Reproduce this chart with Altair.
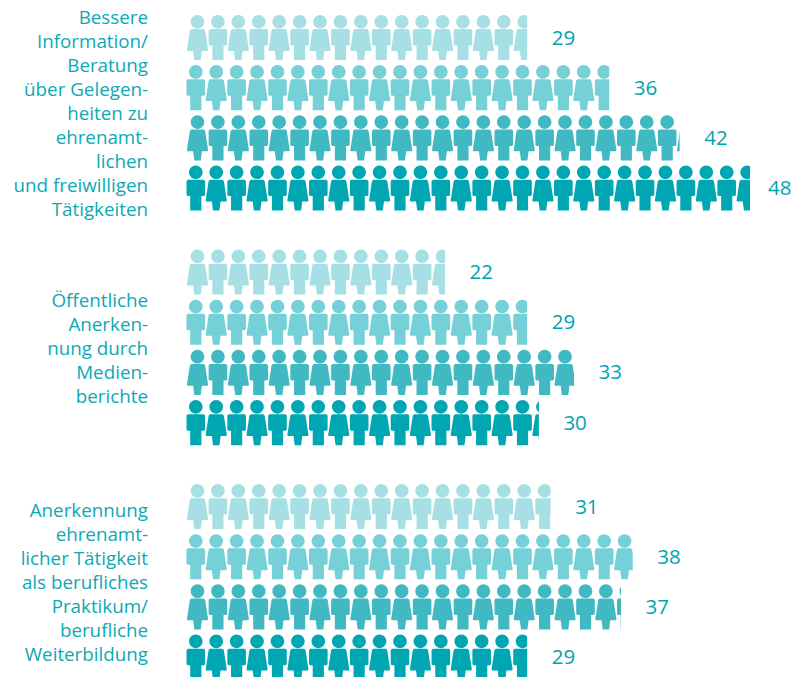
import altair as alt
import pandas as pd

labels = [
    ["Bessere", "Information/", "Beratung", "über Gelegen-", "heiten zu", "ehrenamt-", "lichen",
     "und freiwilligen", "Tätigkeiten"],
    ["Öffentliche", "Anerken-", "nung durch", "Medien-", "berichte"],
    ["Anerkennung", "ehrenamt-", "licher Tätigkeit", "als berufliches", "Praktikum/", "berufliche",
     "Weiterbildung"],
]
values_row1 = [29, 22, 31]
values_row2 = [36, 29, 38]
values_row3 = [42, 33, 37]
values_row4 = [48, 30, 29]
rows = [values_row1, values_row2, values_row3, values_row4]
row_colors = ["#a6e0e5", "#76d0d7", "#41b9c2", "#00a7b3"]
text_color = "#0ba9b5"
value_color = "#00a3af"

PX = 11.73
PY = 50.2
PER_ICON = 20.42 / PX
GROUP_STEP = 4.672
LINE = 24 / PY


def circle(cx, cy, r):
    k = 0.5523 * r
    pts = [
        f"M{cx-r} {cy}",
        f"C{cx-r} {cy-k} {cx-k} {cy-r} {cx} {cy-r}",
        f"C{cx+k} {cy-r} {cx+r} {cy-k} {cx+r} {cy}",
        f"C{cx+r} {cy+k} {cx+k} {cy+r} {cx} {cy+r}",
        f"C{cx-k} {cy+r} {cx-r} {cy+k} {cx-r} {cy}Z",
    ]
    return "".join(pts)


def poly(p):
    p = [(round(x / 22.5, 4), round(y / 22.5, 4)) for x, y in p]
    return "M" + "L".join(f"{x} {y}" for x, y in p) + "Z"


head = circle(0, round(-15.8 / 22.5, 4), round(6.8 / 22.5, 4))
female = head + poly([
    (-6.2, -8.4), (6.2, -8.4), (7.6, -7.2), (10.6, 12.4), (10.0, 13.4), (4.4, 13.4),
    (3.2, 22.5), (-3.2, 22.5), (-4.4, 13.4), (-10.0, 13.4), (-10.6, 12.4), (-7.6, -7.2),
])
male = head + poly([
    (-8.0, -8.4), (8.0, -8.4), (9.3, -7.1), (9.3, 7.0), (8.2, 8.0), (5.6, 8.0),
    (5.6, 22.5), (-5.6, 22.5), (-5.6, 8.0), (-8.2, 8.0), (-9.3, 7.0), (-9.3, -7.1),
])
START = {"f": 10.5 / PX, "m": 8.8 / PX}
HALF = {"f": 10.6 / PX, "m": 9.3 / PX}

W, H = 784, 669
LABEL_GAP = 24.5 / PX
LABEL_MAX = (W - 23 - 179 - 1) / PX

icons, ends, texts = [], [], []
for g, lines in enumerate(labels):
    mid = g * GROUP_STEP + 1.5
    for k, line in enumerate(lines):
        texts.append({"y": mid + (k - (len(lines) - 1) / 2) * LINE, "label": line})
    for r, series in enumerate(rows):
        y = g * GROUP_STEP + r
        v = series[g]
        ends.append({"v": v, "v2": v + 2.2, "lx": min(v + LABEL_GAP, LABEL_MAX),
                     "y": y, "y1": y - 0.47, "y2": y + 0.47})
        first = "f" if r % 2 == 0 else "m"
        i = 0
        while True:
            kind = "f" if (i + r) % 2 == 0 else "m"
            cx = START[first] + i * PER_ICON
            if cx - HALF[kind] >= v:
                break
            icons.append({"x": cx, "y": y, "row": str(r), "g": kind})
            i += 1

x_scale = alt.Scale(domain=[-179 / PX, (W - 179) / PX], range=[0, W], nice=False, zero=False)
y_scale = alt.Scale(domain=[-29.5 / PY, (H - 29.5) / PY], range=[0, H], nice=False, zero=False)
X = lambda f: alt.X(f, scale=x_scale, axis=None)
Y = lambda f: alt.Y(f, scale=y_scale, axis=None)

icon_layer = alt.Chart(pd.DataFrame(icons)).mark_point(
    filled=True, opacity=1, size=2025, strokeWidth=0
).encode(
    x=X("x:Q"), y=Y("y:Q"),
    color=alt.Color("row:N", scale=alt.Scale(domain=["0", "1", "2", "3"], range=row_colors), legend=None),
    shape=alt.Shape("g:N", scale=alt.Scale(domain=["f", "m"], range=[female, male]), legend=None),
)
ends_df = pd.DataFrame(ends)
cut_layer = alt.Chart(ends_df).mark_rect(color="white").encode(
    x=X("v:Q"), x2="v2:Q", y=Y("y1:Q"), y2="y2:Q"
)
value_layer = alt.Chart(ends_df).mark_text(
    align="left", baseline="middle", dy=1, font="Open Sans", fontSize=20.5, color=value_color
).encode(x=X("lx:Q"), y=Y("y:Q"), text=alt.Text("v:Q"))
label_layer = alt.Chart(pd.DataFrame(texts)).mark_text(
    align="right", baseline="middle", dy=1.5,
    font="Open Sans", fontSize=18.8, color=text_color
).encode(x=alt.value(140), y=Y("y:Q"), text="label:N")

chart = alt.layer(icon_layer, cut_layer, value_layer, label_layer).properties(
    width=W, height=H, padding=0, autosize=alt.AutoSizeParams(type="none")
).configure_view(stroke=None)

chart.save("out.html", embed_options={"renderer": "svg", "actions": False})
